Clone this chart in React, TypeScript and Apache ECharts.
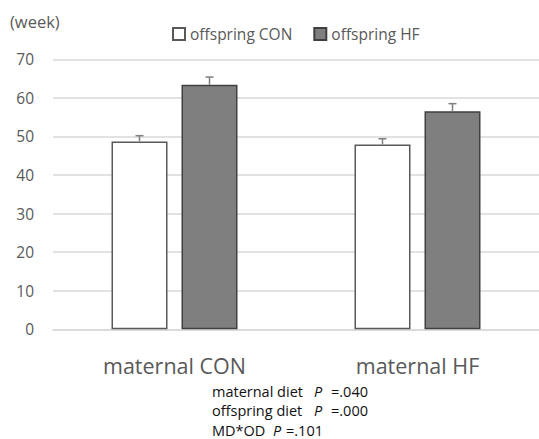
import React, { useEffect, useRef } from "react";
import * as echarts from "echarts";

const categories = ["maternal CON", "maternal HF"];
const seriesNames = ["offspring CON", "offspring HF"];
const conValues = [48.7, 47.9];
const conErrors = [1.5, 1.5];
const hfValues = [63.4, 56.5];
const hfErrors = [2.0, 2.0];
const yTicks = { min: 0, max: 70, interval: 10 };
const annotationLabels = ["maternal diet", "offspring diet", "MD*OD"];
const annotationP = ["=.040", "=.000", "=.101"];

const FONT = "'Open Sans', 'Noto Sans', sans-serif";
const BAR_W = 56;
const GAP_PX = 14;

function errorSeries(values: number[], errors: number[], offset: number) {
  return {
    type: "custom",
    silent: true,
    z: 5,
    data: values.map((v, i) => [i, v, v + errors[i]]),
    renderItem: (params: any, api: any) => {
      const x = api.coord([api.value(0), api.value(1)]);
      const top = api.coord([api.value(0), api.value(2)]);
      const cx = x[0] + offset;
      const style = { stroke: "#7f7f7f", lineWidth: 1.5 };
      return {
        type: "group",
        children: [
          { type: "line", shape: { x1: cx, y1: x[1], x2: cx, y2: top[1] }, style },
          { type: "line", shape: { x1: cx - 4, y1: top[1], x2: cx + 4, y2: top[1] }, style },
        ],
      };
    },
  };
}

// annotation layout (text positions only)
const annX = [212, 314, 331];
const annX3 = [212, 273, 286];
const annY = [391.5, 410.5, 430];

export default function App() {
  const ref = useRef<HTMLDivElement>(null);
  useEffect(() => {
    const chart = echarts.init(ref.current!, undefined, { renderer: "svg" });
    const off = (BAR_W + GAP_PX) / 2;
    const annStyle = { fill: "#111111", fontSize: 14.5, fontFamily: FONT, textVerticalAlign: "middle" };
    const annGraphics: any[] = [];
    annotationLabels.forEach((lab, i) => {
      const xs = i === 2 ? annX3 : annX;
      annGraphics.push(
        { type: "text", x: xs[0], y: annY[i], style: { ...annStyle, text: lab } },
        { type: "text", x: xs[1], y: annY[i], style: { ...annStyle, text: "P", fontStyle: "italic" } },
        { type: "text", x: xs[2], y: annY[i], style: { ...annStyle, text: annotationP[i] } }
      );
    });
    chart.setOption({
      animation: false,
      backgroundColor: "#ffffff",
      textStyle: { fontFamily: FONT },
      grid: { left: 53, right: -2.5, top: 59.3, bottom: 439 - 329.3 },
      legend: {
        left: 172,
        top: 26,
        padding: 0,
        itemWidth: 12,
        itemHeight: 12,
        itemGap: 21,
        icon: "rect",
        textStyle: { color: "#595959", fontSize: 15.5, fontFamily: FONT },
        data: seriesNames,
      },
      xAxis: {
        type: "category",
        data: categories,
        axisLine: { show: true, lineStyle: { color: "#d9d9d9", width: 1.5 } },
        axisTick: { show: false },
        axisLabel: { color: "#595959", fontSize: 21.5, margin: 25, fontFamily: FONT },
      },
      yAxis: {
        type: "value",
        min: yTicks.min,
        max: yTicks.max,
        interval: yTicks.interval,
        axisLine: { show: false },
        axisTick: { show: false },
        axisLabel: { color: "#595959", fontSize: 15.5, margin: 19, fontFamily: FONT },
        splitLine: { lineStyle: { color: "#d9d9d9", width: 1.5 } },
      },
      graphic: [
        {
          type: "text",
          x: 10,
          y: 21.7,
          style: { text: "(week)", fill: "#595959", fontSize: 16.5, fontFamily: FONT, textVerticalAlign: "middle" },
        },
        ...annGraphics,
      ],
      series: [
        {
          name: seriesNames[0],
          type: "bar",
          barWidth: BAR_W,
          barGap: `${(GAP_PX / BAR_W) * 100}%`,
          data: conValues,
          itemStyle: { color: "#ffffff", borderColor: "#595959", borderWidth: 1.5 },
        },
        {
          name: seriesNames[1],
          type: "bar",
          barWidth: BAR_W,
          data: hfValues,
          itemStyle: { color: "#7f7f7f", borderColor: "#404040", borderWidth: 1.5 },
        },
        errorSeries(conValues, conErrors, -off),
        errorSeries(hfValues, hfErrors, off),
      ],
    });
    return () => chart.dispose();
  }, []);
  return <div ref={ref} style={{ width: 539, height: 439, position: "absolute", left: 0, top: 0 }} />;
}
